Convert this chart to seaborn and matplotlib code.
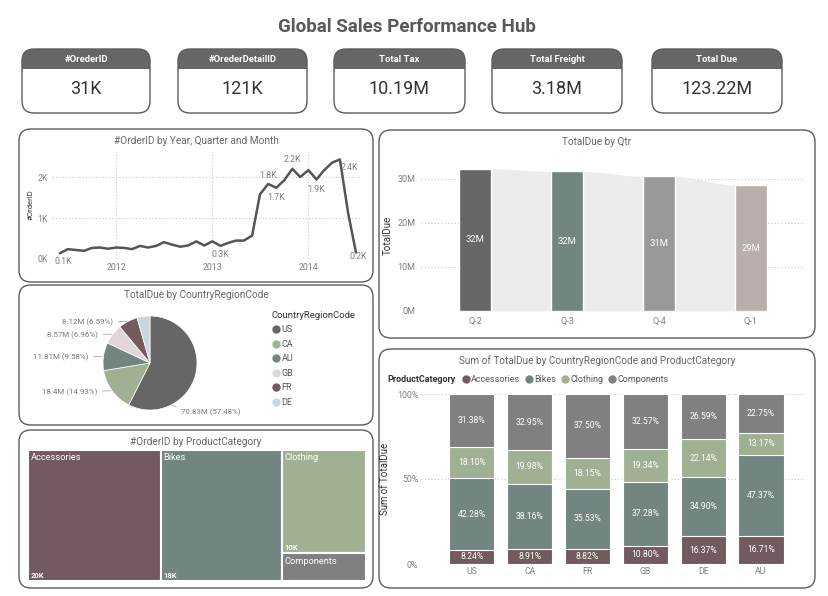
import matplotlib
matplotlib.use("Agg")
import matplotlib.pyplot as plt
from matplotlib.patches import FancyBboxPatch, Rectangle
from matplotlib.lines import Line2D
import seaborn as sns
import numpy as np
import pandas as pd

W, H = 829, 596

# ---------------- data ----------------
kpi_names = ["#OrederID", "#OrederDetailID", "Total Tax", "Total Freight", "Total Due"]
kpi_values = ["31K", "121K", "10.19M", "3.18M", "123.22M"]

# orders per month (K), Jun 2011 .. Jul 2014
orders_month = [0.14, 0.24, 0.22, 0.20, 0.27, 0.28, 0.25, 0.28, 0.27, 0.24,
                0.32, 0.28, 0.32, 0.41, 0.35, 0.30, 0.33, 0.43, 0.33, 0.43,
                0.32, 0.39, 0.45, 0.45, 0.57, 1.58, 1.83, 1.74, 1.92, 2.20,
                2.00, 2.17, 1.94, 2.16, 2.35, 2.43, 1.13, 0.16]
months = pd.date_range("2011-06-01", periods=len(orders_month), freq="MS")
labelled_months = [0, 20, 26, 27, 29, 32, 35, 37]

qtr_labels = ["Q-2", "Q-3", "Q-4", "Q-1"]
qtr_due = [32.3, 31.7, 30.6, 28.6]  # M
qtr_colors = ["#666666", "#738580", "#999999", "#b8aeab"]

country_codes = ["US", "CA", "AU", "GB", "FR", "DE"]
country_due = [70.83, 18.40, 11.81, 8.57, 8.12, 5.49]  # M
country_colors = ["#666666", "#a0b193", "#738580", "#e2d6dc", "#735a5e", "#c9d6e0"]

product_cats = ["Accessories", "Bikes", "Clothing", "Components"]
product_orders = [20.0, 18.3, 10.0, 2.7]  # K
product_colors = ["#735a5e", "#738580", "#a0b193", "#808080"]

stack_countries = ["US", "CA", "FR", "GB", "DE", "AU"]
share_accessories = [8.24, 8.91, 8.82, 10.80, 16.37, 16.71]
share_bikes = [42.28, 38.16, 35.53, 37.28, 34.90, 47.37]
share_clothing = [18.10, 19.98, 18.15, 19.34, 22.14, 13.17]
share_components = [31.38, 32.95, 37.50, 32.57, 26.59, 22.75]

# ---------------- setup ----------------
sns.set_theme(style="white")
plt.rcParams["font.family"] = ["Roboto", "DejaVu Sans"]

TITLE_C = "#666666"
TICK_C = "#808080"
LAB_C = "#333333"

fig = plt.figure(figsize=(W / 100, H / 100), dpi=100)
fig.patch.set_facecolor("white")
bg = fig.add_axes([0, 0, 1, 1])
bg.set_xlim(0, W)
bg.set_ylim(H, 0)
bg.axis("off")


def add_ax(x0, y0, x1, y1):
    a = fig.add_axes([x0 / W, 1 - y1 / H, (x1 - x0) / W, (y1 - y0) / H])
    a.patch.set_alpha(0)
    return a


def panel(x0, y0, x1, y1, title=None, ty=None, r=12):
    bg.add_patch(FancyBboxPatch((x0, y0), x1 - x0, y1 - y0,
                                boxstyle=f"round,pad=0,rounding_size={r}",
                                fc="white", ec="#5c5c5c", lw=1.0))
    if title:
        bg.text((x0 + x1) / 2, ty, title, ha="center", va="center",
                fontsize=7.2, color=TITLE_C)


# main title
bg.text(407, 27, "Global Sales Performance Hub", ha="center", va="center",
        fontsize=13.5, fontweight="bold", color="#595959")

# KPI cards
card_x = [(22, 150), (178, 307), (334, 465), (492, 622), (652, 782)]
for (x0, x1), name, val in zip(card_x, kpi_names, kpi_values):
    card = FancyBboxPatch((x0, 49), x1 - x0, 64, boxstyle="round,pad=0,rounding_size=12",
                          fc="#666666", ec="none")
    bg.add_patch(card)
    low = Rectangle((x0 - 2, 69), x1 - x0 + 4, 50, fc="white", ec="none")
    bg.add_patch(low)
    low.set_clip_path(card)
    bg.add_patch(FancyBboxPatch((x0, 49), x1 - x0, 64, boxstyle="round,pad=0,rounding_size=12",
                                fc="none", ec="#5c5c5c", lw=1.0))
    bg.text((x0 + x1) / 2, 59.5, name, ha="center", va="center", fontsize=6.8,
            fontweight="bold", color="white")
    bg.text((x0 + x1) / 2, 89, val, ha="center", va="center", fontsize=13, color="#333333")

# panels
panel(19, 129, 373, 282, "#OrderID by Year, Quarter and Month", 141)
panel(379, 130, 815, 338, "TotalDue by Qtr", 142)
panel(19, 285, 373, 425, "TotalDue by CountryRegionCode", 295)
panel(19, 430, 373, 588, "#OrderID by ProductCategory", 442)
panel(379, 349, 815, 588, "Sum of TotalDue by CountryRegionCode and ProductCategory", 361)

# ---------------- line chart ----------------
ax1 = add_ax(52, 150, 362, 259)
df_line = pd.DataFrame({"month": months, "orders": orders_month})
sns.lineplot(data=df_line, x="month", y="orders", color="#555555", lw=1.8, ax=ax1)
ax1.set_ylim(0, 2.66)
ax1.set_xlim(months[0] - pd.Timedelta(days=30), months[-1] + pd.Timedelta(days=23))
year_ticks = [m for m in months if m.month == 1]
ax1.set_xticks(year_ticks)
ax1.set_xticklabels([str(m.year) for m in year_ticks])
ax1.set_yticks([0, 1, 2])
ax1.set_yticklabels(["0K", "1K", "2K"])
ax1.grid(True, ls=(0, (1, 2)), color="#c8c8c8", lw=0.8)
ax1.set_axisbelow(True)
for s in ax1.spines.values():
    s.set_visible(False)
ax1.tick_params(length=0, labelsize=6.3, colors=TICK_C, pad=3)
ax1.set_xlabel("")
ax1.set_ylabel("#OrderID", fontsize=5.5, color=LAB_C, labelpad=3)
offsets = {0: (3, -8), 20: (0, -9), 26: (0, 9), 27: (0, -10), 29: (0, 9),
           32: (0, -10), 35: (9, -8), 37: (2, -4)}
for i in labelled_months:
    ax1.annotate(f"{orders_month[i]:.1f}K", (months[i], orders_month[i]),
                 xytext=offsets[i], textcoords="offset pixels", ha="center", va="center",
                 fontsize=6.3, color=TICK_C, annotation_clip=False)

# ---------------- bar chart by quarter ----------------
ax2 = add_ax(421, 160, 805, 311)
bw = 0.35
pos = np.arange(len(qtr_due))
xs = np.linspace(pos[0] - bw / 2, pos[-1] + bw / 2, 600)
ys = np.empty_like(xs)
for k, xv in enumerate(xs):
    i = int(np.clip(np.floor(xv + bw / 2), 0, len(pos) - 1))
    if xv <= pos[i] + bw / 2 or i == len(pos) - 1:
        ys[k] = qtr_due[i]
    else:
        t = (xv - (pos[i] + bw / 2)) / (1 - bw)
        t = np.clip(t, 0, 1)
        s = t * t * (3 - 2 * t)
        ys[k] = qtr_due[i] + (qtr_due[i + 1] - qtr_due[i]) * s
ax2.fill_between(xs, 0, ys, color="#ececec", lw=0, zorder=0.8)
sns.barplot(x=qtr_labels, y=qtr_due, hue=qtr_labels, palette=qtr_colors, legend=False,
            width=bw, saturation=1, ax=ax2, zorder=2)
for i, v in enumerate(qtr_due):
    ax2.text(i, v / 2, f"{v:.0f}M", ha="center", va="center", fontsize=6.8, color="white",
             zorder=3)
ax2.set_ylim(0, 34.3)
ax2.set_xlim(-0.59, 3.59)
ax2.set_yticks([0, 10, 20, 30])
ax2.set_yticklabels(["0M", "10M", "20M", "30M"])
ax2.grid(True, axis="y", ls=(0, (1, 2)), color="#c8c8c8", lw=0.8)
ax2.set_axisbelow(True)
for s in ax2.spines.values():
    s.set_visible(False)
ax2.tick_params(length=0, labelsize=6.5, colors=TICK_C, pad=4)
ax2.set_ylabel("TotalDue", fontsize=7, color=LAB_C, labelpad=3)

# ---------------- pie ----------------
ax3 = add_ax(103, 316, 197, 410)
ax3.pie(country_due, colors=country_colors, startangle=90, counterclock=False, radius=1,
        wedgeprops=dict(lw=0.5, ec="white"))
ax3.set_xlim(-1, 1)
ax3.set_ylim(-1, 1)
ax3.set_aspect("equal")
total_due = sum(country_due)
cum = 0.0
for code, v in zip(country_codes, country_due):
    frac = v / total_due
    at = 0.745 if code == "US" else 0.5
    ang = np.deg2rad(90 - 360 * (cum + frac * at))
    cum += frac
    if code == "DE":
        continue
    xa, ya = np.cos(ang), np.sin(ang)
    if code == "US":
        off, ha = (11, -7), "left"
    else:
        off, ha = (-15, -1), "right"
    ax3.annotate(f"{v:.2f}".rstrip("0").rstrip(".") + f"M ({frac * 100:.2f}%)", (xa, ya),
                 xytext=off, textcoords="offset pixels", ha=ha, va="center",
                 fontsize=5.7, color="#7a7a7a", annotation_clip=False,
                 arrowprops=dict(arrowstyle="-", color="#aaaaaa", lw=0.6,
                                 shrinkA=1.5, shrinkB=1))
handles = [Line2D([], [], marker="o", ls="", markersize=5, color=c) for c in country_colors]
leg = ax3.legend(handles, country_codes, title="CountryRegionCode", loc="upper left",
                 bbox_to_anchor=(267 / W, 1 - 306 / H), bbox_transform=fig.transFigure,
                 frameon=False, fontsize=6.5, title_fontsize=6.8, labelspacing=0.62,
                 handletextpad=0.1, borderpad=0, handlelength=1.0, alignment="left")
leg.get_title().set_color(LAB_C)
for t in leg.get_texts():
    t.set_color("#555555")


# ---------------- treemap ----------------
def squarify(values, x, y, w, h):
    """squarified treemap layout, returns list of (x, y, w, h)"""
    rects = []
    vals = list(values)
    scale = w * h / sum(vals)
    areas = [v * scale for v in vals]

    def worst(row, side):
        s = sum(row)
        return max(max(side * side * a / (s * s), (s * s) / (side * side * a)) for a in row)

    while areas:
        side = min(w, h)
        row = [areas[0]]
        k = 1
        while k < len(areas) and worst(row + [areas[k]], side) <= worst(row, side):
            row.append(areas[k])
            k += 1
        s = sum(row)
        if w >= h:
            cw = s / h
            yy = y
            for a in row:
                rects.append((x, yy, cw, a / cw))
                yy += a / cw
            x += cw
            w -= cw
        else:
            rh = s / w
            xx = x
            for a in row:
                rects.append((xx, y, a / rh, rh))
                xx += a / rh
            y += rh
            h -= rh
        areas = areas[k:]
    return rects


tx0, ty0, tx1, ty1 = 28, 450, 366, 581
ax4 = add_ax(tx0, ty0, tx1, ty1)
ax4.set_xlim(0, tx1 - tx0)
ax4.set_ylim(ty1 - ty0, 0)
ax4.axis("off")
for (rx, ry, rw, rh), name, v, c in zip(squarify(product_orders, 0, 0, tx1 - tx0, ty1 - ty0),
                                       product_cats, product_orders, product_colors):
    ax4.add_patch(Rectangle((rx, ry), rw, rh, fc=c, ec="white", lw=1.5))
    ax4.text(rx + 3, ry + 8, name, ha="left", va="center", fontsize=6.7, color="white")
    if rh > 40:
        ax4.text(rx + 3, ry + rh - 6, f"{v:.0f}K", ha="left", va="center", fontsize=5.5,
                 fontweight="bold", color="white")

# ---------------- 100% stacked bars ----------------
ax5 = add_ax(421, 394, 805, 564)
shares = [share_accessories, share_bikes, share_clothing, share_components]
cums = np.cumsum(np.array(shares), axis=0)
for k in range(len(product_cats) - 1, -1, -1):
    sns.barplot(x=stack_countries, y=cums[k], color=product_colors[k], saturation=1,
                width=0.78, edgecolor="white", linewidth=0.8, ax=ax5, zorder=2)
for k in range(len(product_cats)):
    for i, v in enumerate(shares[k]):
        ax5.text(i, cums[k][i] - v / 2, f"{v:.2f}%", ha="center", va="center",
                 fontsize=6.2, color="white", zorder=3)
ax5.set_ylim(0, 100)
ax5.set_xlim(-0.88, 5.76)
ax5.set_yticks([0, 50, 100])
ax5.set_yticklabels(["0%", "50%", "100%"])
ax5.grid(True, axis="y", ls=(0, (1, 2)), color="#c8c8c8", lw=0.8)
ax5.set_axisbelow(True)
for s in ax5.spines.values():
    s.set_visible(False)
ax5.tick_params(length=0, labelsize=6.3, colors=TICK_C, pad=2)
ax5.set_ylabel("Sum of TotalDue", fontsize=7, color=LAB_C, labelpad=5)
bg.text(387, 379, "ProductCategory", ha="left", va="center", fontsize=6.5,
        fontweight="bold", color=LAB_C)
handles = [Line2D([], [], marker="o", ls="", markersize=5, color=c) for c in product_colors]
leg2 = bg.legend(handles, product_cats, loc="center left",
                 bbox_to_anchor=(457 / W, 1 - 379.5 / H), bbox_transform=fig.transFigure,
                 frameon=False, fontsize=6.5, ncol=4, handletextpad=0.05,
                 columnspacing=0.5, handlelength=1.0, borderpad=0)
for t in leg2.get_texts():
    t.set_color("#555555")

fig.savefig("out.png", dpi=100, facecolor="white")
